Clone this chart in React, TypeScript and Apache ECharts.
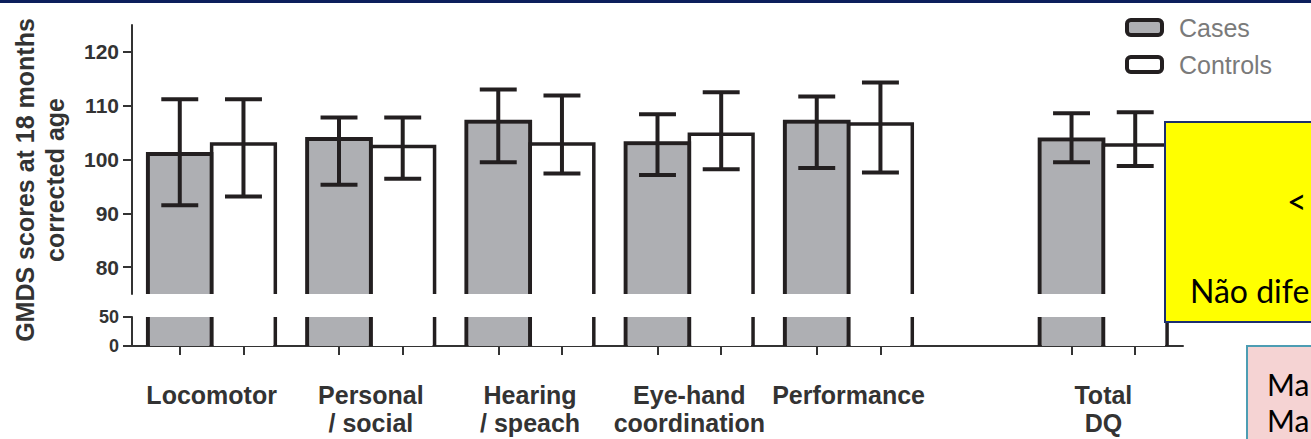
import React, { useEffect, useRef } from "react";
import * as echarts from "echarts";

// ---- data ----
const categories = [
  "Locomotor",
  "Personal\n/ social",
  "Hearing\n/ speach",
  "Eye-hand\ncoordination",
  "Performance",
  "Total\nDQ",
];
const categoryPositions = [0, 1, 2, 3, 4, 5.6];

const casesMean = [101, 103.8, 107, 103, 107, 103.7];
const casesLow = [91.5, 95.3, 99.5, 97.1, 98.4, 99.5];
const casesHigh = [111.2, 107.8, 113, 108.4, 111.7, 108.6];

const controlsMean = [102.9, 102.4, 102.9, 104.7, 106.6, 102.7];
const controlsLow = [93.1, 96.4, 97.4, 98.2, 97.6, 98.8];
const controlsHigh = [111.2, 107.8, 111.9, 112.5, 114.3, 108.8];

const upperTicks = [80, 90, 100, 110, 120];
const lowerTicks = [0, 50];

// ---- style constants ----
const GRAY = "#aeafb3";
const WHITE = "#ffffff";
const INK = "#231f20";
const AXIS = "#333333";
const FONT = "'Liberation Sans', Arial, sans-serif";
const BAR_W = 0.4;
const CAP_W = 0.232;
const OFFSET = 0.2;

function makeRender(offset: number, fill: string, part: "upper" | "lower", lw: number) {
  return (params: any, api: any) => {
    const cx = api.value(0) + offset;
    const cs = params.coordSys;
    const halfW = api.size([BAR_W, 0])[0] / 2;
    const px = api.coord([cx, part === "upper" ? 100 : 25])[0];
    const l = px - halfW;
    const r = px + halfW;
    const bottom = cs.y + cs.height;
    if (part === "lower") {
      const top = cs.y;
      return {
        type: "group",
        children: [
          { type: "rect", shape: { x: l + 2, y: top, width: r - l - 4, height: bottom - top }, style: { fill } },
          { type: "line", shape: { x1: l, y1: top, x2: l, y2: bottom }, style: { stroke: INK, lineWidth: lw } },
          { type: "line", shape: { x1: r, y1: top, x2: r, y2: bottom }, style: { stroke: INK, lineWidth: lw } },
        ],
      };
    }
    const top = api.coord([cx, api.value(1)])[1];
    const lo = api.coord([cx, api.value(2)])[1];
    const hi = api.coord([cx, api.value(3)])[1];
    const cap = api.size([CAP_W, 0])[0] / 2;
    const es = { stroke: INK, lineWidth: 4 };
    return {
      type: "group",
      children: [
        { type: "rect", shape: { x: l + 2, y: top + 2, width: r - l - 4, height: bottom - top - 2 }, style: { fill } },
        {
          type: "polyline",
          shape: { points: [[l, bottom], [l, top], [r, top], [r, bottom]] },
          style: { stroke: INK, lineWidth: lw, fill: "none", lineJoin: "miter" },
        },
        { type: "line", shape: { x1: px, y1: hi, x2: px, y2: lo }, style: es },
        { type: "line", shape: { x1: px - cap, y1: hi, x2: px + cap, y2: hi }, style: es },
        { type: "line", shape: { x1: px - cap, y1: lo, x2: px + cap, y2: lo }, style: es },
      ],
    };
  };
}

export default function App() {
  const ref = useRef<HTMLDivElement>(null);
  useEffect(() => {
    const chart = echarts.init(ref.current!, null, { renderer: "svg" });
    const casesData = categoryPositions.map((p, i) => [p, casesMean[i], casesLow[i], casesHigh[i]]);
    const controlsData = categoryPositions.map((p, i) => [p, controlsMean[i], controlsLow[i], controlsHigh[i]]);
    const barTicks = categoryPositions.flatMap((p) => [p - OFFSET, p + OFFSET]);
    const axisLineStyle = { color: AXIS, width: 2 };

    const option: any = {
      animation: false,
      backgroundColor: "#ffffff",
      grid: [
        { left: 132, right: 128, top: 25, height: 269, outerBoundsMode: "none" },
        { left: 132, right: 128, top: 317, height: 29, outerBoundsMode: "none" },
      ],
      legend: {
        orient: "vertical",
        left: 1120,
        top: 10,
        itemWidth: 35,
        itemHeight: 15,
        itemGap: 12,
        selectedMode: false,
        icon: "roundRect",
        textStyle: { color: "#7a7a7a", fontSize: 25, fontFamily: FONT, padding: [0, 0, 0, 12] },
        data: [
          { name: "Cases", itemStyle: { color: GRAY, borderColor: INK, borderWidth: 4 } },
          { name: "Controls", itemStyle: { color: WHITE, borderColor: INK, borderWidth: 4 } },
        ],
      },
      xAxis: [
        { gridIndex: 0, type: "value", min: -0.5, max: 6.1, show: false },
        {
          gridIndex: 1,
          type: "value",
          min: -0.5,
          max: 6.1,
          splitLine: { show: false },
          axisLine: { show: true, lineStyle: axisLineStyle },
          axisTick: { show: true, customValues: barTicks, length: 9, lineStyle: axisLineStyle },
          axisLabel: {
            customValues: categoryPositions,
            formatter: (v: number) => {
              const i = categoryPositions.findIndex((p) => Math.abs(p - v) < 1e-6);
              return i >= 0 ? categories[i] : "";
            },
            fontSize: 25,
            fontWeight: "bold",
            fontFamily: FONT,
            color: AXIS,
            lineHeight: 28,
            margin: 35,
          },
        },
      ],
      yAxis: [
        {
          gridIndex: 0,
          type: "value",
          min: 75,
          max: 125,
          splitLine: { show: false },
          axisLine: { show: true, onZero: false, lineStyle: axisLineStyle },
          axisTick: { show: true, customValues: upperTicks, length: 9, lineStyle: axisLineStyle },
          axisLabel: { customValues: upperTicks, fontSize: 21, fontWeight: "bold", fontFamily: FONT, color: AXIS, margin: 13 },
        },
        {
          gridIndex: 1,
          type: "value",
          min: 0,
          max: 50,
          splitLine: { show: false },
          axisLine: { show: true, onZero: false, lineStyle: axisLineStyle },
          axisTick: { show: true, customValues: lowerTicks, length: 9, lineStyle: axisLineStyle },
          axisLabel: { customValues: lowerTicks, fontSize: 18, fontWeight: "bold", fontFamily: FONT, color: AXIS, margin: 13 },
        },
      ],
      series: [
        { type: "custom", name: "Cases", xAxisIndex: 0, yAxisIndex: 0, silent: true, itemStyle: { color: GRAY }, renderItem: makeRender(-OFFSET, GRAY, "upper", 4), data: casesData },
        { type: "custom", name: "Controls", xAxisIndex: 0, yAxisIndex: 0, silent: true, itemStyle: { color: WHITE }, renderItem: makeRender(OFFSET, WHITE, "upper", 3.5), data: controlsData },
        { type: "custom", name: "Cases", xAxisIndex: 1, yAxisIndex: 1, silent: true, itemStyle: { color: GRAY }, renderItem: makeRender(-OFFSET, GRAY, "lower", 4), data: casesData },
        { type: "custom", name: "Controls", xAxisIndex: 1, yAxisIndex: 1, silent: true, itemStyle: { color: WHITE }, renderItem: makeRender(OFFSET, WHITE, "lower", 3.5), data: controlsData },
      ],
      graphic: [
        { type: "rect", z: 100, shape: { x: 0, y: 0, width: 1311, height: 3 }, style: { fill: "#0c1f5c" } },
        {
          type: "text",
          z: 100,
          x: 40,
          y: 180,
          rotation: Math.PI / 2,
          style: {
            text: "GMDS scores at 18 months\ncorrected age",
            font: `bold 25px ${FONT}`,
            fill: AXIS,
            align: "center",
            verticalAlign: "middle",
            lineHeight: 30,
          },
        },
        { type: "rect", z: 100, shape: { x: 1165, y: 122, width: 200, height: 200 }, style: { fill: "#ffff00", stroke: "#1b2f6e", lineWidth: 2 } },
        { type: "text", z: 101, x: 1287, y: 200, style: { text: "<", font: "34px Lato, 'Open Sans', sans-serif", fill: "#000", verticalAlign: "middle" } },
        { type: "text", z: 101, x: 1190, y: 290, style: { text: "Não dife", font: "32px Lato, 'Open Sans', sans-serif", fill: "#000", verticalAlign: "middle" } },
        { type: "rect", z: 100, shape: { x: 1247, y: 346, width: 100, height: 120 }, style: { fill: "#f5d3d3", stroke: "#4d9db3", lineWidth: 2 } },
        {
          type: "text",
          z: 101,
          x: 1267,
          y: 366,
          style: { text: "Ma\nMa", font: "30px Lato, 'Open Sans', sans-serif", fill: "#000", verticalAlign: "top", lineHeight: 36 },
        },
      ],
    };
    chart.setOption(option);
    return () => chart.dispose();
  }, []);
  return (
    <div
      ref={ref}
      style={{ position: "fixed", left: 0, top: 0, width: 1311, height: 439, overflow: "hidden", background: "#fff" }}
    />
  );
}
